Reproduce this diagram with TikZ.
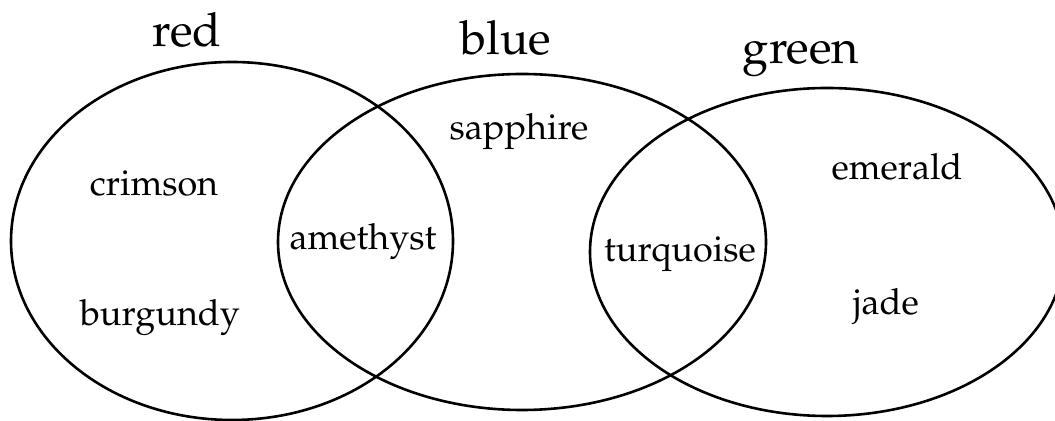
\documentclass[tikz,border=0pt]{standalone}
\usepackage[T1]{fontenc}
\renewcommand{\rmdefault}{ppl}
\usetikzlibrary{shapes.geometric}
\tikzset{
  setshape/.style={draw, ellipse, line width=1.3pt, inner sep=0pt, outer sep=0pt},
  item/.style={anchor=base, inner sep=0pt, font=\fontsize{18}{20}\selectfont},
  title/.style={anchor=base, inner sep=0pt, font=\fontsize{23.5}{26}\selectfont}
}
\begin{document}
\begin{tikzpicture}[x=0.5pt, y=-0.5pt]
\useasboundingbox (0,0) rectangle (1055,421);
\clip (0,0) rectangle (1055,421);
\node[setshape, minimum width=221pt, minimum height=179pt] (red) at (232,241) {};
\node[setshape, minimum width=244pt, minimum height=168pt] (blue) at (522,242) {};
\node[setshape, minimum width=237pt, minimum height=164pt] (green) at (827,252) {};
\node[title] (tred) at (187,47) {red};
\node[title] (tblue) at (506,55) {blue};
\node[title] (tgreen) at (801,64) {green};
\node[item] (crimson) at (154,196) {crimson};
\node[item] (burgundy) at (160,326) {burgundy};
\node[item] (amethyst) at (363,250) {amethyst};
\node[item] (sapphire) at (519,140) {sapphire};
\node[item] (turquoise) at (680,262) {turquoise};
\node[item] (emerald) at (897,180) {emerald};
\node[item] (jade) at (886,315) {jade};
\end{tikzpicture}
\end{document}
